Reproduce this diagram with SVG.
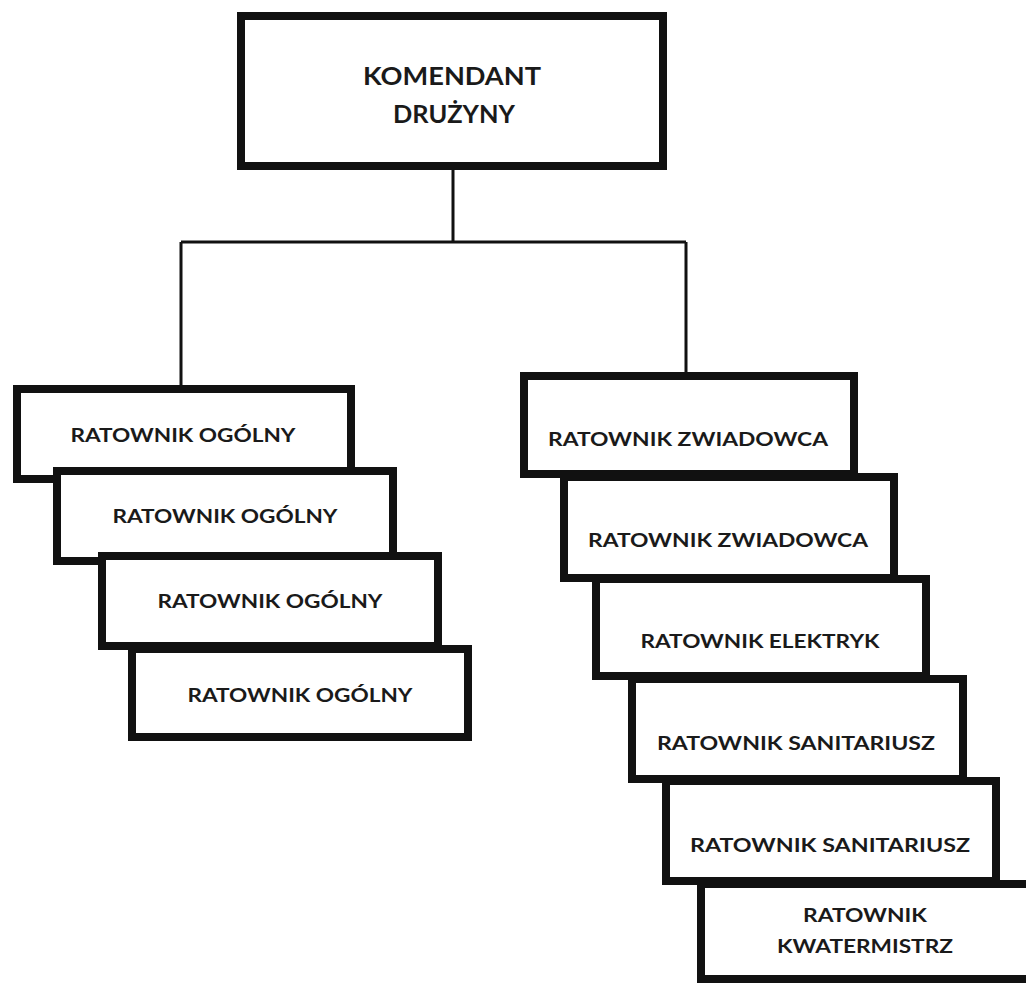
<svg xmlns="http://www.w3.org/2000/svg" width="1026" height="984" viewBox="0 0 1026 984">
<style>
.box{fill:#fff;stroke:#111;stroke-width:8}
.sh{fill:#ecd2c4}
.t{font-family:Lato,"Open Sans","Liberation Sans",sans-serif;font-weight:bold;fill:#1a1a1a;text-anchor:middle}
.s{font-size:19px}
.b{font-size:25px}
.c{fill:none;stroke:#111;stroke-width:3}
</style>
<rect width="1026" height="984" fill="#fff"/>
<g id="connectors">
<path class="c" d="M453 168V242M181 242H686M181 242V386M686 242V374"/>
</g>
<g id="komendant">
<rect class="box" x="241" y="16" width="422" height="150"/>
<text class="t b" x="452" y="85" textLength="178" lengthAdjust="spacingAndGlyphs">KOMENDANT</text>
<text class="t b" x="454" y="123" textLength="122" lengthAdjust="spacingAndGlyphs">DRUŻYNY</text>
</g>
<g id="ogolny1">
<rect class="box" x="17" y="389" width="334" height="90"/>
<text class="t s" x="183" y="442" textLength="225" lengthAdjust="spacingAndGlyphs">RATOWNIK OGÓLNY</text>
</g>
<g id="ogolny2">
<rect class="box" x="57" y="471" width="336" height="90"/>
<text class="t s" x="225" y="523" textLength="225" lengthAdjust="spacingAndGlyphs">RATOWNIK OGÓLNY</text>
</g>
<g id="ogolny3">
<rect class="box" x="102" y="556" width="336" height="90"/>
<text class="t s" x="270" y="608" textLength="225" lengthAdjust="spacingAndGlyphs">RATOWNIK OGÓLNY</text>
</g>
<g id="ogolny4">
<rect class="box" x="132" y="649" width="336" height="88"/>
<text class="t s" x="300" y="702" textLength="225" lengthAdjust="spacingAndGlyphs">RATOWNIK OGÓLNY</text>
</g>
<g id="zwiadowca1">
<rect class="box" x="524" y="376" width="330" height="98"/>
<text class="t s" x="688" y="446" textLength="280" lengthAdjust="spacingAndGlyphs">RATOWNIK ZWIADOWCA</text>
</g>
<g id="zwiadowca2">
<rect class="box" x="564" y="477" width="330" height="101"/>
<text class="t s" x="728" y="547" textLength="280" lengthAdjust="spacingAndGlyphs">RATOWNIK ZWIADOWCA</text>
</g>
<g id="elektryk">
<rect class="box" x="596" y="579" width="330" height="97"/>
<text class="t s" x="760" y="648" textLength="239" lengthAdjust="spacingAndGlyphs">RATOWNIK ELEKTRYK</text>
</g>
<g id="sanitariusz1">
<rect class="box" x="632" y="679" width="331" height="100"/>
<text class="t s" x="796" y="750" textLength="278" lengthAdjust="spacingAndGlyphs">RATOWNIK SANITARIUSZ</text>
</g>
<g id="sanitariusz2">
<rect class="box" x="666" y="781" width="330" height="100"/>
<text class="t s" x="830" y="852" textLength="280" lengthAdjust="spacingAndGlyphs">RATOWNIK SANITARIUSZ</text>
</g>
<g id="kwatermistrz">
<rect class="box" x="701" y="884" width="340" height="95"/>
<text class="t s" x="865" y="922" textLength="124" lengthAdjust="spacingAndGlyphs">RATOWNIK</text>
<text class="t s" x="865" y="953" textLength="176" lengthAdjust="spacingAndGlyphs">KWATERMISTRZ</text>
</g>
</svg>
